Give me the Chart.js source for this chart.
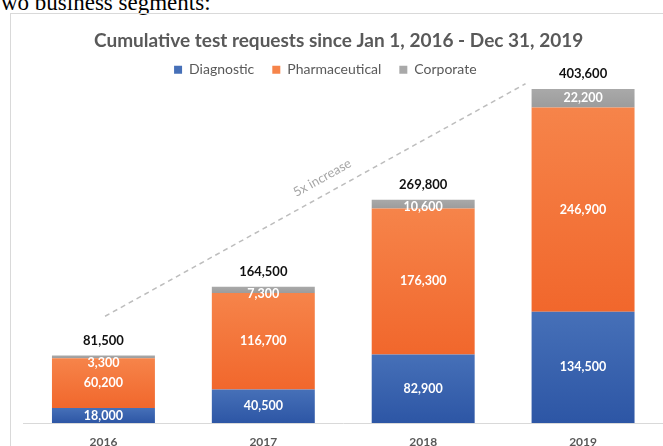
<!DOCTYPE html>
<html>
<head>
<meta charset="utf-8">
<script src="https://cdn.jsdelivr.net/npm/chart.js@4.4.0/dist/chart.umd.min.js"></script>
<style>
html, body { margin: 0; padding: 0; background: #fff; width: 663px; height: 446px; overflow: hidden; }
#lead { position: absolute; left: 1px; top: -8px; font: 23px/22px "Liberation Serif", serif; color: #000; white-space: nowrap; }
#frame { position: absolute; left: 10px; top: 13px; width: 700px; height: 480px; border: 1px solid #d9d9d9; }
#wrap { position: absolute; left: 10px; top: 13px; width: 653px; height: 452px; }
</style>
</head>
<body>
<div id="lead">wo business segments:</div>
<div id="frame"></div>
<div id="wrap"><canvas id="chart" width="653" height="452"></canvas></div>
<script>
// values
const years = ['2016', '2017', '2018', '2019'];
const diagnostic = [18000, 40500, 82900, 134500];
const pharmaceutical = [60200, 116700, 176300, 246900];
const corporate = [3300, 7300, 10600, 22200];
const totals = [81500, 164500, 269800, 403600];

// dashed "5x increase" guide, in [category index, value]
const trendFrom = [0.01, 129000];
const trendTo = [2.64, 410000];
const trendText = '5x increase';

const fmt = (v) => v.toLocaleString('en-US');

// light-to-dark fill down each stacked segment (legend gets the plain colour)
const segFill = (light, dark) => (context) => {
    const {chart, dataIndex, datasetIndex} = context;
    const y = chart.scales.y;
    if (context.type !== 'data' || !y) return dark;
    let base = 0;
    for (let d = 0; d < datasetIndex; d++) base += chart.data.datasets[d].data[dataIndex];
    const top = base + chart.data.datasets[datasetIndex].data[dataIndex];
    const y0 = y.getPixelForValue(top), y1 = y.getPixelForValue(base);
    if (!Number.isFinite(y0) || !Number.isFinite(y1) || y0 === y1) return dark;
    const g = chart.ctx.createLinearGradient(0, y0, 0, y1);
    g.addColorStop(0, light);
    g.addColorStop(1, dark);
    return g;
};

const segLabels = {
    id: 'segLabels',
    beforeDatasetsDraw(chart) {
        const {ctx, scales: {x, y}} = chart;
        const x1 = x.getPixelForValue(trendFrom[0]), y1 = y.getPixelForValue(trendFrom[1]);
        const x2 = x.getPixelForValue(trendTo[0]), y2 = y.getPixelForValue(trendTo[1]);
        ctx.save();
        ctx.strokeStyle = '#bdbdbd';
        ctx.lineWidth = 1.5;
        ctx.setLineDash([5, 4]);
        ctx.beginPath();
        ctx.moveTo(x1, y1);
        ctx.lineTo(x2, y2);
        ctx.stroke();
        // label above the line
        const ang = Math.atan2(y2 - y1, x2 - x1);
        const t = 0.535, d = 16;
        const px = x1 + (x2 - x1) * t + Math.sin(ang) * d;
        const py = y1 + (y2 - y1) * t - Math.cos(ang) * d;
        ctx.translate(px, py);
        ctx.rotate(ang);
        ctx.fillStyle = '#a6a6a6';
        ctx.font = '13px Lato';
        ctx.textAlign = 'center';
        ctx.textBaseline = 'middle';
        ctx.fillText(trendText, 0, 0);
        ctx.restore();
    },
    afterDatasetsDraw(chart) {
        const {ctx} = chart;
        ctx.save();
        ctx.textAlign = 'center';
        ctx.textBaseline = 'middle';
        ctx.font = 'bold 12.5px Lato';
        ctx.fillStyle = '#ffffff';
        chart.data.datasets.forEach((ds, di) => {
            chart.getDatasetMeta(di).data.forEach((bar, i) => {
                const top = Math.min(bar.y, bar.base);
                const bottom = Math.max(bar.y, bar.base);
                let ty = (top + bottom) / 2;
                if (di === 2) ty = Math.max(ty, top + 7);
                ctx.fillText(fmt(ds.data[i]), bar.x, ty);
            });
        });
        ctx.font = 'bold 13px Lato';
        ctx.fillStyle = '#111111';
        const topMeta = chart.getDatasetMeta(2);
        totals.forEach((t, i) => {
            const bar = topMeta.data[i];
            ctx.fillText(fmt(t), bar.x, bar.y - 15);
        });
        ctx.restore();
    }
};

new Chart('chart', {
    type: 'bar',
    data: {
        labels: years,
        datasets: [
            {label: 'Diagnostic', data: diagnostic, backgroundColor: segFill('#4670b8', '#2d56a5')},
            {label: 'Pharmaceutical', data: pharmaceutical, backgroundColor: segFill('#f6844a', '#f1672c')},
            {label: 'Corporate', data: corporate, backgroundColor: segFill('#a9a9a9', '#9c9c9c')}
        ]
    },
    options: {
        responsive: false,
        animation: false,
        layout: {padding: {left: 13.5, right: 0, top: 0, bottom: 3.6}},
        datasets: {bar: {categoryPercentage: 1, barPercentage: 0.644}},
        scales: {
            x: {
                stacked: true,
                grid: {display: false, drawTicks: false},
                border: {display: true, color: '#d9d9d9', width: 1},
                ticks: {padding: 12, color: '#595959', font: {family: 'Lato', size: 12, weight: 'bold'}}
            },
            y: {
                stacked: true,
                display: false,
                min: 0,
                max: 406400
            }
        },
        plugins: {
            title: {
                display: true,
                // trailing spaces nudge the centred title a little to the left
                text: 'Cumulative test requests since Jan 1, 2016 - Dec 31, 2019  ',
                color: '#595959',
                font: {family: 'Lato', size: 19, weight: 'bold'},
                padding: {top: 16.2, bottom: -7.3}
            },
            legend: {
                labels: {
                    boxWidth: 8, boxHeight: 8, padding: 18,
                    color: '#595959',
                    font: {family: 'Lato', size: 14},
                    generateLabels(chart) {
                        const items = Chart.defaults.plugins.legend.labels.generateLabels(chart);
                        items[items.length - 1].text += '          ';
                        return items;
                    }
                }
            },
            tooltip: {enabled: false}
        }
    },
    plugins: [segLabels]
});
</script>
</body>
</html>
